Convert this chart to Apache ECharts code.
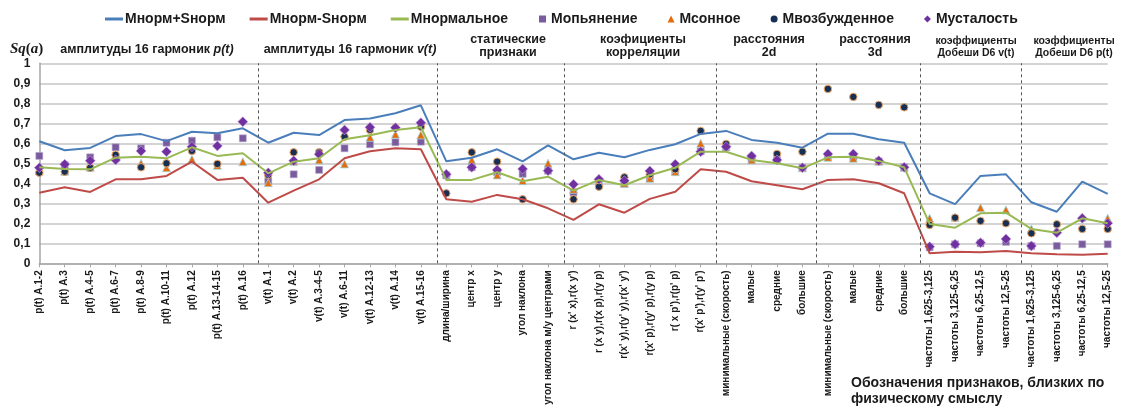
<!DOCTYPE html>
<html>
<head>
<meta charset="utf-8">
<script src="https://cdn.jsdelivr.net/npm/echarts@6/dist/echarts.min.js"></script>
<style>
  html, body { margin: 0; padding: 0; background: #fff; }
  #chart { width: 1125px; height: 414px; }
</style>
</head>
<body>
<div id="chart"></div>
<script>
// categories (features)
var categories = [
  'p(t) A.1-2', 'p(t) A.3', 'p(t) A.4-5', 'p(t) A.6-7', 'p(t) A.8-9', 'p(t) A.10-11',
  'p(t) A.12', 'p(t) A.13-14-15', 'p(t) A.16',
  'v(t) A.1', 'v(t) A.2', 'v(t) A.3-4-5', 'v(t) A.6-11', 'v(t) A.12-13', 'v(t) A.14', 'v(t) A.15-16',
  'длина/ширина', 'центр x', 'центр y', 'угол наклона', 'угол наклона м/у центрами',
  "r (x' x),r(x y')", 'r (x y),r(x p),r(y p)', "r(x' y),r(y' y),r(x' y')",
  "r(x' p),r(y' p),r(y p)", "r( x p'),r(p' p)", "r(x' p'),r(y' p')",
  'минимальные (скорость)', 'малые', 'средние', 'большие',
  'минимальные (скорость)', 'малые', 'средние', 'большие',
  'частоты 1,625-3,125', 'частоты 3,125-6,25', 'частоты 6,25-12,5', 'частоты 12,5-25',
  'частоты 1,625-3,125', 'частоты 3,125-6,25', 'частоты 6,25-12,5', 'частоты 12,5-25'
];

// lines
var normPlus = [0.61, 0.565, 0.577, 0.636, 0.646, 0.611, 0.658, 0.65, 0.675,
  0.603, 0.653, 0.641, 0.716, 0.724, 0.75, 0.79,
  0.51, 0.528, 0.57, 0.51, 0.59,
  0.52, 0.553, 0.53, 0.567, 0.595, 0.647,
  0.662, 0.617, 0.603, 0.578,
  0.648, 0.648, 0.62, 0.603,
  0.35, 0.296, 0.437, 0.445, 0.305, 0.258, 0.408, 0.347];
var normMinus = [0.353, 0.38, 0.357, 0.42, 0.42, 0.437, 0.508, 0.417, 0.428,
  0.303, 0.363, 0.42, 0.525, 0.56, 0.575, 0.57,
  0.32, 0.308, 0.342, 0.32, 0.275,
  0.217, 0.295, 0.253, 0.322, 0.358, 0.47,
  0.458, 0.41, 0.39, 0.37,
  0.417, 0.42, 0.4, 0.35,
  0.05, 0.058, 0.055, 0.062, 0.05, 0.045, 0.043, 0.048];
var normal = [0.48, 0.472, 0.47, 0.528, 0.533, 0.525, 0.58, 0.537, 0.55,
  0.45, 0.508, 0.525, 0.62, 0.64, 0.667, 0.68,
  0.417, 0.417, 0.455, 0.41, 0.433,
  0.363, 0.417, 0.39, 0.44, 0.478, 0.558,
  0.558, 0.517, 0.5, 0.475,
  0.53, 0.533, 0.512, 0.48,
  0.197, 0.178, 0.25, 0.253, 0.172, 0.153, 0.225, 0.2];

// markers
var drunk = [0.537, 0.49, 0.53, 0.58, 0.575, 0.603, 0.613, 0.63, 0.625,
  0.41, 0.445, 0.467, 0.575, 0.595, 0.605, 0.608,
  0.44, 0.48, 0.455, 0.447, 0.463,
  0.355, 0.41, 0.397, 0.425, 0.46, 0.56,
  0.58, 0.52, 0.515, 0.478,
  0.535, 0.53, 0.51, 0.48,
  0.08, 0.095, 0.1, 0.107, 0.087, 0.087, 0.095, 0.095];
var sleepy = [0.465, 0.46, 0.48, 0.53, 0.5, 0.478, 0.52, 0.49, 0.508,
  0.403, 0.51, 0.517, 0.497, 0.63, 0.645, 0.642,
  0.45, 0.517, 0.442, 0.413, 0.5,
  0.37, 0.42, 0.4, 0.425, 0.458, 0.6,
  0.59, 0.517, 0.52, 0.478,
  0.53, 0.525, 0.51, 0.48,
  0.225, 0.23, 0.278, 0.267, 0.172, 0.172, 0.23, 0.225];
var excited = [0.453, 0.458, 0.478, 0.542, 0.48, 0.5, 0.562, 0.497, null,
  0.442, 0.555, 0.555, 0.633, 0.667, 0.678, 0.683,
  0.35, 0.555, 0.508, 0.32, null,
  0.32, 0.383, 0.43, 0.445, 0.47, 0.662,
  0.597, 0.53, 0.547, 0.558,
  0.872, 0.832, 0.792, 0.78,
  0.192, 0.228, 0.212, 0.2, 0.15, 0.195, 0.172, 0.172];
var tired = [0.478, 0.495, 0.513, 0.517, 0.562, 0.558, 0.583, 0.587, 0.708,
  0.453, 0.513, 0.545, 0.667, 0.68, 0.678, 0.703,
  0.445, 0.48, 0.467, 0.472, 0.463,
  0.395, 0.42, 0.413, 0.462, 0.495, 0.558,
  0.583, 0.537, 0.517, 0.478,
  0.547, 0.547, 0.513, 0.48,
  0.083, 0.095, 0.103, 0.122, 0.087, 0.153, 0.225, 0.2];

// group separators, in category units
var separators = [8.6, 15.65, 20.65, 26.6, 30.55, 34.65, 38.6];

var FONT = "'Liberation Sans', Arial, sans-serif";

var chart = echarts.init(document.getElementById('chart'));

function sectionTitle(text, x, size) {
  return {
    text: text,
    left: x,
    top: size ? 30 : 28,
    textAlign: 'center',
    textStyle: {
      fontFamily: FONT, fontWeight: 'bold', fontSize: size || 12.5,
      color: '#1a1a1a', lineHeight: size ? 12 : 13,
      rich: {
        it: { fontFamily: FONT, fontWeight: 'bold', fontStyle: 'italic', fontSize: 12.5, color: '#1a1a1a' }
      }
    }
  };
}

var option = {
  animation: false,
  backgroundColor: '#ffffff',
  title: [
    {
      text: '{i|Sq}{n|(}{i|a}{n|)}',
      left: 5, top: 37,
      textStyle: {
        rich: {
          i: { fontFamily: "'Liberation Serif', serif", fontStyle: 'italic', fontWeight: 'bold', fontSize: 15, color: '#1a1a1a' },
          n: { fontFamily: "'Liberation Serif', serif", fontWeight: 'bold', fontSize: 15, color: '#1a1a1a' }
        }
      }
    },
    Object.assign(sectionTitle('амплитуды 16 гармоник {it|p(t)}', 142), { top: 38 }),
    Object.assign(sectionTitle('амплитуды 16 гармоник {it|v(t)}', 345), { top: 38 }),
    sectionTitle('статические\nпризнаки', 503),
    sectionTitle('коэфициенты\nкорреляции', 638),
    sectionTitle('расстояния\n2d', 764),
    sectionTitle('расстояния\n3d', 870),
    sectionTitle('коэффициенты\nДобеши D6 v(t)', 971, 10.5),
    sectionTitle('коэффициенты\nДобеши D6 p(t)', 1069, 10.5),
    {
      text: 'Обозначения признаков, близких по\nфизическому смыслу',
      left: 846, top: 370,
      textStyle: { fontFamily: FONT, fontWeight: 'bold', fontSize: 14, lineHeight: 16, color: '#1a1a1a' }
    }
  ],
  legend: [
    {
      data: ['Мнорм+Sнорм', 'Мнорм-Sнорм', 'Мнормальное'],
      left: 100, top: 7,
      icon: 'rect', itemWidth: 18, itemHeight: 3, itemGap: 24,
      textStyle: { fontFamily: FONT, fontWeight: 'bold', fontSize: 14, color: '#1a1a1a', padding: [0, 0, 0, -3] }
    },
    {
      data: ['Мопьянение', 'Мсонное', 'Мвозбужденное', 'Мусталость'],
      left: 534, top: 7,
      itemWidth: 7, itemHeight: 7, itemGap: 30,
      itemStyle: { borderWidth: 0 },
      textStyle: { fontFamily: FONT, fontWeight: 'bold', fontSize: 14, color: '#1a1a1a' }
    }
  ],
  grid: { left: 39.3, right: 17.3, top: 63.3, bottom: 150.7 },
  xAxis: [
    {
      type: 'category',
      data: categories,
      boundaryGap: false,
      axisLine: { lineStyle: { color: '#a6a6a6', width: 1.5 } },
      axisTick: { show: true, length: 4, lineStyle: { color: '#a6a6a6' } },
      axisLabel: {
        interval: 0, rotate: 90, margin: 7,
        fontFamily: FONT, fontWeight: 'bold', fontSize: 10, color: '#1a1a1a'
      },
      splitLine: { show: false }
    },
    {
      // hidden helper axis for group separators
      type: 'value', min: 0, max: 42, show: false
    }
  ],
  yAxis: {
    type: 'value',
    min: 0, max: 1, interval: 0.1,
    axisLine: { show: true, lineStyle: { color: '#a6a6a6', width: 1.5 } },
    axisTick: { show: false },
    axisLabel: {
      margin: 9,
      fontFamily: FONT, fontWeight: 'bold', fontSize: 12, color: '#1a1a1a',
      formatter: function (v) { return String(Math.round(v * 10) / 10).replace('.', ','); }
    },
    splitLine: { lineStyle: { color: '#c4c4c4', width: 1.5 } }
  },
  series: [
    {
      name: 'Мнорм+Sнорм', type: 'line', data: normPlus, symbol: 'none',
      lineStyle: { color: '#4a7ebb', width: 2 }, itemStyle: { color: '#4a7ebb' }
    },
    {
      name: 'Мнорм-Sнорм', type: 'line', data: normMinus, symbol: 'none',
      lineStyle: { color: '#be4b48', width: 2 }, itemStyle: { color: '#be4b48' }
    },
    {
      name: 'Мнормальное', type: 'line', data: normal, symbol: 'none',
      lineStyle: { color: '#98b954', width: 2 }, itemStyle: { color: '#98b954' }
    },
    {
      name: 'Мопьянение', type: 'scatter', data: drunk, symbol: 'rect', symbolSize: 7,
      itemStyle: { color: '#7a5c9e', borderColor: '#b9a9cf', borderWidth: 0.6, opacity: 1 }
    },
    {
      name: 'Мсонное', type: 'scatter', data: sleepy, symbol: 'triangle', symbolSize: 8,
      itemStyle: { color: '#e46c0a', borderColor: '#9fd6e6', borderWidth: 0.8, opacity: 1 }
    },
    {
      name: 'Мвозбужденное', type: 'scatter', data: excited, symbol: 'circle', symbolSize: 7.5,
      itemStyle: { color: '#172f52', borderColor: '#f0a868', borderWidth: 1, opacity: 1 }
    },
    {
      name: 'Мусталость', type: 'scatter', data: tired, symbol: 'diamond', symbolSize: 10,
      itemStyle: { color: '#7030a0', borderColor: '#c8a6e0', borderWidth: 0.6, opacity: 1 }
    },
    {
      // dashed lines between feature groups
      type: 'line', xAxisIndex: 1, data: [], silent: true,
      markLine: {
        symbol: 'none', silent: true,
        label: { show: false },
        lineStyle: { type: [3, 3], color: '#555555', width: 1 },
        data: separators.map(function (v) { return { xAxis: v }; })
      }
    }
  ]
};

chart.setOption(option);
</script>
</body>
</html>
